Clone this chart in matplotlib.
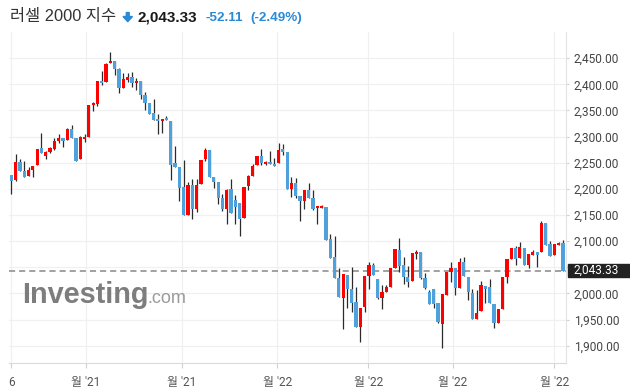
import matplotlib.pyplot as plt
import numpy as np
from matplotlib.patches import Polygon, Rectangle
from matplotlib.transforms import Bbox, TransformedBbox

W, H = 630, 388

# 러셀 2000 일봉: 시가 / 고가 / 저가 / 종가
opens = [2227, 2217, 2252, 2235, 2224, 2237, 2245, 2279, 2263, 2270,
         2277, 2292, 2297, 2293, 2315, 2298, 2257, 2295, 2300, 2360,
         2363, 2407, 2405, 2440, 2445, 2430, 2392, 2409, 2414, 2402,
         2407, 2379, 2365, 2345, 2334, 2329, 2336, 2330, 2250, 2242,
         2204, 2150, 2208, 2161, 2209, 2257, 2274, 2223, 2214, 2182,
         2161, 2199, 2179, 2173, 2145, 2205, 2224, 2245, 2263, 2247,
         2252, 2248, 2249, 2276, 2271, 2199, 2211, 2186, 2177, 2197,
         2183, 2163, 2163, 2166, 2104, 2069, 2029, 1992, 2036, 2008,
         1983, 1936, 1975, 2034, 2055, 2028, 1992, 2003, 2013, 2048,
         2083, 2054, 2032, 2023, 2075, 2080, 2030, 2003, 2008, 1982,
         1942, 1997, 2041, 2049, 2010, 2061, 2032, 2001, 1952, 1966,
         2014, 2012, 1980, 1943, 1971, 2032, 2066, 2087, 2067, 2087,
         2055, 2074, 2080, 2080, 2134, 2094, 2073, 2092, 2097]
highs = [2227, 2267, 2257, 2253, 2242, 2244, 2277, 2307, 2273, 2281,
         2297, 2305, 2297, 2317, 2322, 2298, 2301, 2304, 2361, 2367,
         2407, 2426, 2440, 2461, 2445, 2432, 2421, 2422, 2423, 2412,
         2407, 2386, 2365, 2372, 2344, 2334, 2340, 2330, 2282, 2242,
         2256, 2213, 2218, 2219, 2256, 2278, 2274, 2223, 2214, 2191,
         2200, 2219, 2188, 2173, 2204, 2227, 2248, 2263, 2276, 2254,
         2273, 2259, 2287, 2285, 2271, 2223, 2221, 2186, 2197, 2211,
         2198, 2168, 2170, 2166, 2113, 2110, 2048, 2038, 2036, 2051,
         2013, 1973, 2034, 2060, 2059, 2028, 2016, 2016, 2048, 2085,
         2106, 2069, 2052, 2078, 2084, 2080, 2039, 2006, 2008, 1982,
         1998, 2041, 2061, 2049, 2067, 2070, 2032, 2008, 2007, 2024,
         2014, 2027, 1980, 1970, 2032, 2066, 2087, 2090, 2098, 2087,
         2076, 2083, 2080, 2138, 2134, 2101, 2094, 2099, 2103]
lows = [2190, 2216, 2235, 2222, 2224, 2222, 2245, 2268, 2257, 2268,
        2275, 2288, 2281, 2293, 2298, 2254, 2257, 2290, 2300, 2349,
        2358, 2398, 2405, 2440, 2417, 2383, 2392, 2405, 2395, 2389,
        2372, 2350, 2344, 2332, 2304, 2307, 2331, 2217, 2242, 2176,
        2150, 2150, 2143, 2156, 2209, 2254, 2223, 2202, 2171, 2158,
        2133, 2153, 2132, 2110, 2145, 2198, 2224, 2245, 2245, 2245,
        2247, 2243, 2249, 2264, 2199, 2185, 2182, 2139, 2162, 2183,
        2159, 2132, 2163, 2102, 2068, 2029, 1993, 1932, 1973, 1965,
        1936, 1908, 1965, 2008, 2035, 1990, 1970, 2003, 2012, 2048,
        2041, 2018, 2013, 2023, 2066, 2027, 2008, 1980, 1972, 1943,
        1896, 1997, 2022, 1997, 2010, 2033, 1987, 1952, 1952, 1966,
        1982, 1981, 1934, 1943, 1971, 2020, 2066, 2055, 2067, 2054,
        2048, 2074, 2050, 2080, 2092, 2071, 2073, 2092, 2043.33]
closes = [2216, 2252, 2235, 2222, 2237, 2244, 2277, 2268, 2270, 2278,
          2291, 2297, 2292, 2315, 2298, 2254, 2300, 2300, 2361, 2365,
          2407, 2402, 2439, 2445, 2429, 2392, 2410, 2414, 2403, 2407,
          2379, 2365, 2344, 2332, 2329, 2334, 2331, 2246, 2242, 2201,
          2150, 2208, 2161, 2208, 2256, 2274, 2223, 2213, 2182, 2161,
          2197, 2153, 2165, 2143, 2204, 2224, 2243, 2263, 2250, 2252,
          2247, 2243, 2275, 2271, 2199, 2212, 2187, 2177, 2197, 2183,
          2161, 2168, 2168, 2102, 2068, 2029, 1993, 2038, 2008, 1982,
          1936, 1973, 2034, 2055, 2036, 1992, 2003, 2013, 2048, 2085,
          2052, 2031, 2021, 2078, 2080, 2029, 2010, 1980, 1980, 1945,
          1998, 2041, 2049, 2010, 2061, 2033, 2002, 1952, 1962, 2016,
          2009, 1981, 1943, 1970, 2032, 2066, 2087, 2066, 2089, 2054,
          2076, 2080, 2074, 2134, 2092, 2071, 2094, 2097, 2043.33]

tick_pos = [0, 17.3, 39.6, 61.7, 82.8, 102.5, 126]
tick_labels = ['6', "월 '21", "월 '21", "월 '22", "월 '22", "월 '22", "월 '22"]
y_ticks = [1900, 1950, 2000, 2050, 2100, 2150, 2200, 2250, 2300, 2350, 2400, 2450]

title = '러셀 2000 지수'
last_price = 2043.33
change = -52.11
change_pct = -2.49

UP = '#ff0000'
DOWN = '#4fa1db'
WICK = '#2b2b2b'
GRID = '#f0f0f0'
KR = ['Roboto', 'Noto Sans CJK KR']

fig = plt.figure(figsize=(W / 100, H / 100), dpi=100)
ax = fig.add_axes([9 / W, 1 - 363 / H, (566 - 9) / W, (363 - 32) / H])

o = np.array(opens, dtype=float)
h = np.array(highs, dtype=float)
l = np.array(lows, dtype=float)
c = np.array(closes, dtype=float)
idx = np.arange(len(o))
cols = [UP if cc > oo else DOWN for oo, cc in zip(o, c)]

# 심지와 몸통
ax.vlines(idx, l, h, color=WICK, lw=0.9, zorder=2)
body = np.maximum(np.abs(c - o), 2.5)
ax.bar(idx, body, bottom=np.minimum(o, c), width=0.75, color=cols, zorder=3)

ax.axhline(last_price, color='#9a9a9a', lw=1.3, ls=(0, (3.4, 2.2)), zorder=1)

ax.set_xlim(-0.53, 128.7)
ax.set_ylim(1867, 2500)
ax.set_yticks(y_ticks)
# 2,050 라벨 자리는 현재가 라벨이 덮는다
ax.set_yticklabels(['' if abs(v - last_price) < 25 else f'{v:,.2f}' for v in y_ticks])
ax.yaxis.tick_right()
ax.set_xticks(tick_pos)
ax.set_xticklabels(tick_labels)
ax.grid(True, color=GRID, lw=0.9, zorder=0)
ax.set_axisbelow(True)

for s in ['top', 'left']:
    ax.spines[s].set_visible(False)
ax.spines['right'].set_color('#e3e3e3')
ax.spines['bottom'].set_color('#dadada')
ax.tick_params(axis='y', length=2.5, color='#d0d0d0', pad=3, labelsize=8.6,
               labelcolor='#444444')
ax.tick_params(axis='x', length=3.5, color='#d0d0d0', pad=6, labelsize=8.6,
               labelcolor='#555555')
for lbl in ax.get_yticklabels():
    lbl.set_family('Roboto')
clip = TransformedBbox(Bbox.from_extents(0, 0, 569 / W, 1), fig.transFigure)
for lbl in ax.get_xticklabels():
    lbl.set_family(KR)
    lbl.set_clip_box(clip)
    lbl.set_clip_on(True)

# 현재가 라벨
fig.patches.append(Rectangle((568 / W, 1 - 277 / H), (630 - 568) / W, 13.5 / H,
                             transform=fig.transFigure, color='#222222', zorder=5))
fig.text(596.5 / W, 1 - 270.5 / H, f'{last_price:,.2f}', color='white', size=8.6,
         family='Roboto', ha='center', va='center', zorder=6)

# 워터마크
fig.text(22 / W, 1 - 303 / H, 'Investing', family='Liberation Sans', weight='bold',
         size=20.8, color='#7d7d7d', va='baseline')
fig.text(147 / W, 1 - 303 / H, '.com', family='Liberation Sans', size=13,
         color='#9b9b9b', va='baseline')

# 제목 줄
base = 1 - 21 / H
fig.text(10 / W, base, title, family=['Liberation Sans', 'Noto Sans CJK KR'],
         size=11.8, color='#333333', va='baseline')
arrow = [(126.3, 12.5), (129.2, 12.5), (129.2, 16.5), (132.5, 16.5),
         (127.75, 21.7), (123, 16.5), (126.3, 16.5)]
fig.patches.append(Polygon([(x / W, 1 - y / H) for x, y in arrow], closed=True,
                           transform=fig.transFigure, color='#2a8ad6'))
fig.text(138 / W, base, f'{last_price:,.2f}', family='Liberation Sans',
         weight='bold', size=11, color='#1a1a1a', va='baseline')
fig.text(206 / W, base, f'{change:.2f}', family='Liberation Sans', weight='bold',
         size=9.7, color='#2a8ad6', va='baseline')
fig.text(250 / W, base, f'({change_pct:.2f}%)', family='Liberation Sans',
         weight='bold', size=9.7, color='#2a8ad6', va='baseline')

fig.savefig('out.png', dpi=100)
